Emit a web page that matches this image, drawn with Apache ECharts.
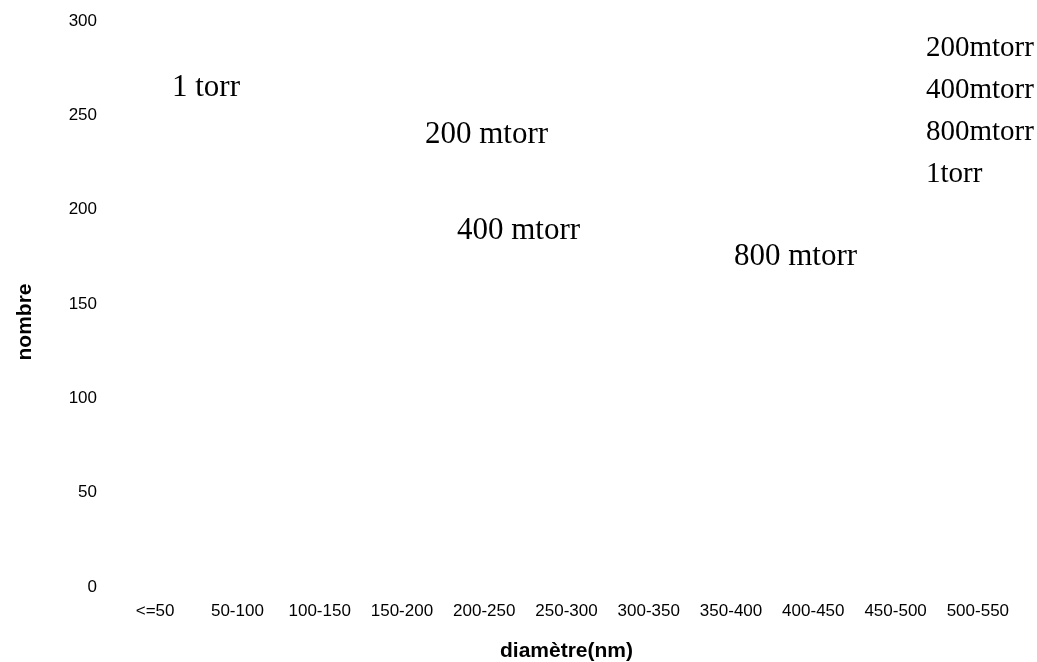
<!DOCTYPE html>
<html>
<head>
<meta charset="utf-8">
<script src="https://cdn.jsdelivr.net/npm/echarts@6/dist/echarts.min.js"></script>
<style>html,body{margin:0;padding:0;background:#fff}#c{width:1037px;height:662px}</style>
</head>
<body>
<div id="c"></div>
<script>
// Categories (x axis)
const categories = ['<=50','50-100','100-150','150-200','200-250','250-300','300-350','350-400','400-450','450-500','500-550'];
// Series names (legend)
const seriesNames = ['200mtorr','400mtorr','800mtorr','1torr'];
// Series values: no mark is visible in the reference picture, so every value is empty
const s200mtorr = [null,null,null,null,null,null,null,null,null,null,null];
const s400mtorr = [null,null,null,null,null,null,null,null,null,null,null];
const s800mtorr = [null,null,null,null,null,null,null,null,null,null,null];
const s1torr    = [null,null,null,null,null,null,null,null,null,null,null];
// Y tick range
const yMin = 0, yMax = 300, yStep = 50;
// Free text annotations in the plot
const annotations = ['1 torr','200 mtorr','400 mtorr','800 mtorr'];

const seriesValues = [s200mtorr, s400mtorr, s800mtorr, s1torr];
const serif = '"Liberation Serif","Times New Roman",serif';
const sans = '"Liberation Sans",Arial,sans-serif';

const chart = echarts.init(document.getElementById('c'), null, {renderer:'canvas'});
const annPos = [[172,88],[425,135],[457,231],[734,257]];
chart.setOption({
  animation:false,
  backgroundColor:'#ffffff',
  grid:{left:114,right:18,top:21,bottom:75,containLabel:false,outerBoundsMode:'none'},
  legend:{
    orient:'vertical', left:920, top:34, padding:0,
    icon:'none', itemWidth:1, itemHeight:29, itemGap:13,
    textStyle:{fontFamily:serif,fontSize:29,color:'#000'},
    data:seriesNames
  },
  xAxis:{
    type:'category', data:categories, boundaryGap:true,
    axisLine:{show:false}, axisTick:{show:false}, splitLine:{show:false},
    axisLabel:{interval:0,margin:16,fontFamily:sans,fontSize:17,color:'#000'},
    name:'diamètre(nm)', nameLocation:'middle', nameGap:54,
    nameTextStyle:{fontFamily:sans,fontSize:21,fontWeight:'bold',color:'#000'}
  },
  yAxis:{
    type:'value', min:yMin, max:yMax, interval:yStep,
    axisLine:{show:false}, axisTick:{show:false}, splitLine:{show:false},
    axisLabel:{margin:17,fontFamily:sans,fontSize:17,color:'#000'},
    name:'nombre', nameLocation:'middle', nameGap:78,
    nameTextStyle:{fontFamily:sans,fontSize:21,fontWeight:'bold',color:'#000',padding:[0,36,0,0]}
  },
  graphic: annotations.map((t,i)=>({
    type:'text', x:annPos[i][0], y:annPos[i][1],
    style:{text:t, font:'31px '+serif, fill:'#000', verticalAlign:'middle', align:'left'}
  })),
  series: seriesNames.map((n,i)=>({
    name:n, type:'line', data:seriesValues[i], showSymbol:false,
    lineStyle:{opacity:0}
  }))
});
</script>
</body>
</html>
